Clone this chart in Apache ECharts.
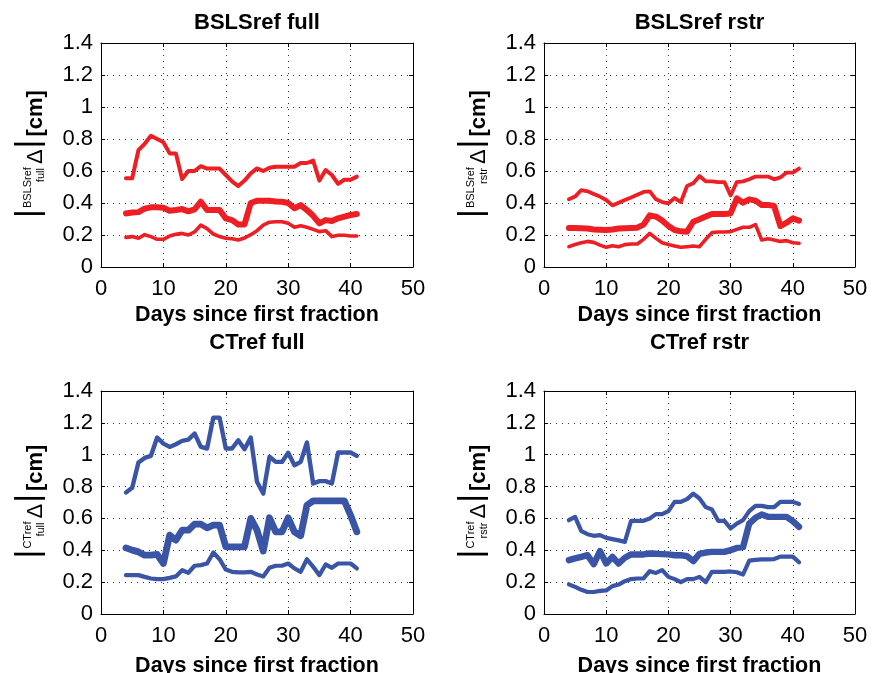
<!DOCTYPE html>
<html><head><meta charset="utf-8">
<script src="https://cdn.jsdelivr.net/npm/echarts@6/dist/echarts.min.js"></script>
<style>html,body{margin:0;padding:0;background:#fff}#c{width:872px;height:673px}</style>
</head><body><div id="c"></div><script>
const days = [4,5,6,7,8,9,10,11,12,13,14,15,16,17,18,19,20,21,22,23,24,25,26,27,28,29,30,31,32,33,34,35,36,37,38,39,40,41];
const xTickValues = [0,10,20,30,40,50];
const yTickValues = [0,0.2,0.4,0.6,0.8,1,1.2,1.4];
const panelTitles = ['BSLSref full','BSLSref rstr','CTref full','CTref rstr'];
const labelSup = ['BSLSref','BSLSref','CTref','CTref'];
const labelSub = ['full','rstr','full','rstr'];
const xAxisName = 'Days since first fraction';
const unitText = '[cm]';

const bslsFullUpper = [.555,.555,.73,.77,.82,.80,.78,.71,.71,.55,.60,.60,.63,.615,.615,.615,.575,.535,.506,.54,.585,.616,.60,.62,.627,.627,.627,.627,.65,.65,.665,.54,.606,.575,.52,.545,.545,.565];
const bslsFullMid = [.335,.34,.343,.365,.373,.373,.37,.352,.356,.362,.348,.36,.408,.356,.356,.356,.304,.293,.266,.266,.40,.414,.414,.414,.41,.408,.40,.367,.387,.356,.32,.273,.293,.287,.304,.315,.325,.331];
const bslsFullLower = [.185,.19,.18,.202,.19,.173,.173,.194,.204,.21,.2,.219,.262,.24,.206,.19,.18,.177,.169,.181,.202,.227,.262,.28,.283,.283,.273,.248,.258,.248,.235,.221,.227,.19,.198,.198,.194,.194];

const bslsRstrUpper = [.423,.44,.481,.473,.456,.44,.419,.385,.402,.419,.435,.452,.469,.473,.423,.406,.398,.431,.406,.506,.523,.569,.535,.535,.531,.531,.448,.531,.535,.548,.565,.565,.565,.548,.56,.59,.59,.615];
const bslsRstrMid = [.244,.244,.242,.24,.235,.233,.231,.235,.24,.242,.244,.246,.265,.323,.315,.29,.256,.231,.223,.221,.283,.298,.315,.331,.331,.331,.335,.429,.402,.423,.415,.388,.388,.381,.256,.277,.304,.29];
const bslsRstrLower = [.127,.141,.152,.16,.154,.137,.123,.133,.127,.14,.144,.144,.173,.21,.179,.152,.141,.131,.123,.127,.131,.127,.173,.215,.219,.219,.221,.235,.248,.248,.265,.169,.177,.169,.16,.165,.152,.148];

const ctFullUpper = [.763,.792,.951,.98,.993,1.108,1.07,1.049,1.066,1.087,1.095,1.133,1.049,1.039,1.233,1.233,1.039,1.039,1.091,1.035,1.108,.83,.756,.987,.955,.955,1.012,.934,.955,1.077,.819,.834,.834,.819,1.014,1.014,1.014,.993];
const ctFullMid = [.415,.401,.39,.369,.369,.374,.317,.495,.464,.526,.526,.564,.564,.541,.558,.558,.422,.422,.422,.422,.6,.526,.395,.604,.516,.516,.604,.516,.491,.683,.71,.71,.71,.71,.71,.71,.62,.516];
const ctFullLower = [.244,.244,.244,.233,.223,.219,.219,.227,.236,.275,.259,.303,.307,.317,.386,.344,.279,.265,.261,.261,.265,.248,.236,.29,.303,.303,.317,.286,.265,.344,.296,.244,.311,.29,.317,.317,.317,.286];

const ctRstrUpper = [.589,.61,.52,.501,.491,.495,.478,.47,.462,.453,.585,.585,.585,.6,.627,.627,.646,.704,.704,.721,.756,.725,.671,.656,.585,.585,.537,.568,.589,.646,.679,.679,.671,.671,.704,.704,.704,.69];
const ctRstrMid = [.338,.349,.359,.369,.313,.395,.317,.359,.317,.353,.374,.374,.374,.38,.378,.376,.374,.369,.369,.363,.332,.378,.386,.39,.39,.39,.401,.415,.42,.568,.604,.625,.61,.61,.61,.61,.583,.547];
const ctRstrLower = [.186,.17,.152,.138,.138,.145,.148,.175,.185,.206,.219,.223,.223,.269,.258,.276,.233,.219,.2,.219,.219,.233,.2,.265,.265,.265,.267,.262,.248,.335,.34,.343,.343,.345,.36,.36,.36,.325];

const panelSeries = [
  [bslsFullUpper, bslsFullMid, bslsFullLower],
  [bslsRstrUpper, bslsRstrMid, bslsRstrLower],
  [ctFullUpper, ctFullMid, ctFullLower],
  [ctRstrUpper, ctRstrMid, ctRstrLower]
];
const RED = '#ED1F24', BLUE = '#3A55A5';
const panelColors = [RED, RED, BLUE, BLUE];
const lineWidths = [[4,6,3.6],[3.8,6,3.6],[4.4,6.8,4.2],[4.2,6.4,4.2]];

const FF = '"Liberation Sans", Arial, Helvetica, sans-serif';
const grids = [
  {left:101, top:43, width:312, height:224},
  {left:544, top:43, width:311, height:224},
  {left:101, top:391, width:312, height:223},
  {left:544, top:391, width:311, height:223}
];
const titleY = [23, 23, 343, 343];
const nameGaps = [37, 37, 41, 41];

const xMin = xTickValues[0], xMax = xTickValues[xTickValues.length-1], xInt = xTickValues[1]-xTickValues[0];
const yMin = yTickValues[0], yMax = yTickValues[yTickValues.length-1], yInt = +(yTickValues[1]-yTickValues[0]).toFixed(3);

const mctx = document.createElement('canvas').getContext('2d');
function tw(text, font){ mctx.font = font; return mctx.measureText(text).width; }

function yLabel(baseX, cy, sup, sub){
  const fBar = '34px ' + FF, fS = '11px ' + FF, fD = '22px ' + FF, fU = 'bold 22px ' + FF;
  const wBar = tw('|', fBar), wSup = tw(sup, fS), wSub = tw(sub, fS), wD = tw('\u0394', fD), wU = tw(unitText, fU);
  const wStack = Math.max(wSup, wSub);
  const items = [];
  const K = 0.32;
  function add(s, text, font, fs, baseline){
    items.push({type:'text', x:s, y:baseline - K*fs, style:{text, font, fill:'#000', align:'left', verticalAlign:'middle'}});
  }
  let s = 0;
  add(s, '|', fBar, 34, -3); s += wBar + 1;
  add(s, sup, fS, 11, -12);
  add(s + wStack - wSub - 1, sub, fS, 11, 1);
  s += wStack + 3;
  add(s, '\u0394', fD, 22, 0); s += wD + 1;
  add(s, '|', fBar, 34, -3); s += wBar + 3;
  add(s, unitText, fU, 22, 0); s += wU;
  return {type:'group', x:baseX, y:cy + s/2, rotation:Math.PI/2, children:items};
}

const xAxes = [], yAxes = [], series = [], graphics = [];
grids.forEach((g, i) => {
  xAxes.push({
    gridIndex:i, type:'value', min:xMin, max:xMax, interval:xInt, position:'bottom',
    name:xAxisName, nameLocation:'middle', nameGap:nameGaps[i],
    nameTextStyle:{fontFamily:FF, fontWeight:'bold', fontSize:21.5, color:'#000'},
    axisLine:{show:true, onZero:false, lineStyle:{color:'#000', width:1}},
    axisTick:{show:true, inside:true, length:4, lineStyle:{color:'#000'}},
    axisLabel:{show:true, fontFamily:FF, fontSize:22, color:'#000', margin:11},
    splitLine:{show:true, lineStyle:{color:'#333', width:1, type:[1,5]}}
  });
  yAxes.push({
    gridIndex:i, type:'value', min:yMin, max:yMax, interval:yInt, position:'left',
    axisLine:{show:true, onZero:false, lineStyle:{color:'#000', width:1}},
    axisTick:{show:true, inside:true, length:4, lineStyle:{color:'#000'}},
    axisLabel:{show:true, fontFamily:FF, fontSize:22, color:'#000', margin:8},
    splitLine:{show:true, lineStyle:{color:'#333', width:1, type:[1,5]}}
  });
  const c = panelColors[i];
  panelSeries[i].forEach((vals, k) => {
    series.push({
      type:'line', xAxisIndex:i, yAxisIndex:i, showSymbol:false, symbol:'none', animation:false,
      data: days.map((d, j) => [d, vals[j]]),
      lineStyle:{color:c, width:lineWidths[i][k], join:'round', cap:'round'},
      itemStyle:{color:c}, z:3
    });
  });
  graphics.push({type:'text', x:g.left + g.width/2, y:titleY[i],
    style:{text:panelTitles[i], font:'bold 22px ' + FF, fill:'#000', align:'center', verticalAlign:'middle'}});
  graphics.push(yLabel(g.left - 58, g.top + g.height/2 - 1, labelSup[i], labelSub[i]));
});
grids.forEach((g, i) => {
  xAxes.push({
    gridIndex:i, type:'value', min:xMin, max:xMax, interval:xInt, position:'top',
    axisLine:{show:true, onZero:false, lineStyle:{color:'#000', width:1}},
    axisTick:{show:true, inside:true, length:4, lineStyle:{color:'#000'}},
    axisLabel:{show:false}, splitLine:{show:false}
  });
  yAxes.push({
    gridIndex:i, type:'value', min:yMin, max:yMax, interval:yInt, position:'right',
    axisLine:{show:true, onZero:false, lineStyle:{color:'#000', width:1}},
    axisTick:{show:true, inside:true, length:4, lineStyle:{color:'#000'}},
    axisLabel:{show:false}, splitLine:{show:false}
  });
});

const chart = echarts.init(document.getElementById('c'), null, {renderer:'canvas'});
chart.setOption({
  backgroundColor:'#fff',
  animation:false,
  grid: grids.map(g => Object.assign({containLabel:false, outerBoundsMode:'none'}, g)),
  xAxis: xAxes,
  yAxis: yAxes,
  series: series,
  graphic: graphics
});
</script></body></html>
